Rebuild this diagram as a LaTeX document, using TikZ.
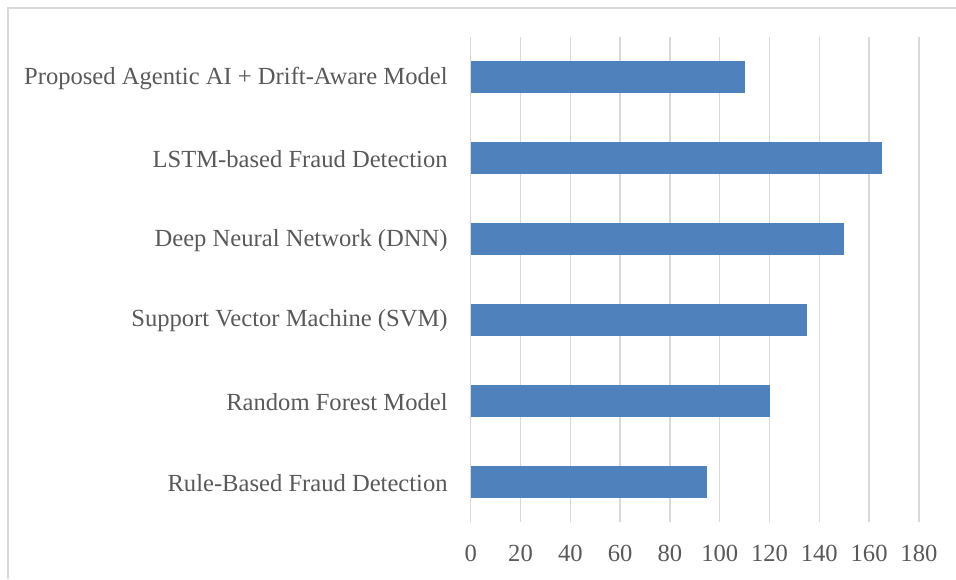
\documentclass[tikz,border=0pt]{standalone}
\usepackage{fontspec}
\setmainfont{Liberation Serif}
\definecolor{barblue}{HTML}{4F81BD}
\definecolor{gridgray}{HTML}{D9D9D9}
\definecolor{labelgray}{HTML}{595959}
\tikzset{
    gridline/.style = {gridgray, line width = 0.75pt},
    chartlabel/.style = {labelgray, inner sep = 0pt, font = \fontsize{14}{16}\selectfont},
    bar/.style = {fill = barblue, draw = none}
}

\begin{document}
\begin{tikzpicture}[x = 0.02cm, y = -0.02cm]
    \useasboundingbox (0,0) rectangle (956,579);
    % frame of the chart
    \draw[gridgray, line width = 1.1pt] (8,579) -- (8,8) -- (956,8);
    % grid and value axis
    \foreach \v in {0, 20, ..., 180}
    \draw[gridline] (470.7+2.49*\v, 37) -- (470.7+2.49*\v, 522);
    \foreach \v in {0, 20, ..., 180}
    \node[chartlabel] (tick\v) at (470.7+2.49*\v, 553) {\v};
    % bars, top to bottom
    \foreach \val/\name [count = \i] in {110/Proposed Agentic AI + Drift-Aware Model,
        165/LSTM-based Fraud Detection,
        150/Deep Neural Network (DNN),
        135/Support Vector Machine (SVM),
        120/Random Forest Model,
        95/Rule-Based Fraud Detection}
    {
        \fill[bar] (470.7, 37+80.83*\i-40.4-16) rectangle (470.7+2.49*\val, 37+80.83*\i-40.4+16);
        \node[chartlabel, anchor = east] (cat\i) at (448, 37+80.83*\i-39.4) {\name};
    }
\end{tikzpicture}
\end{document}
